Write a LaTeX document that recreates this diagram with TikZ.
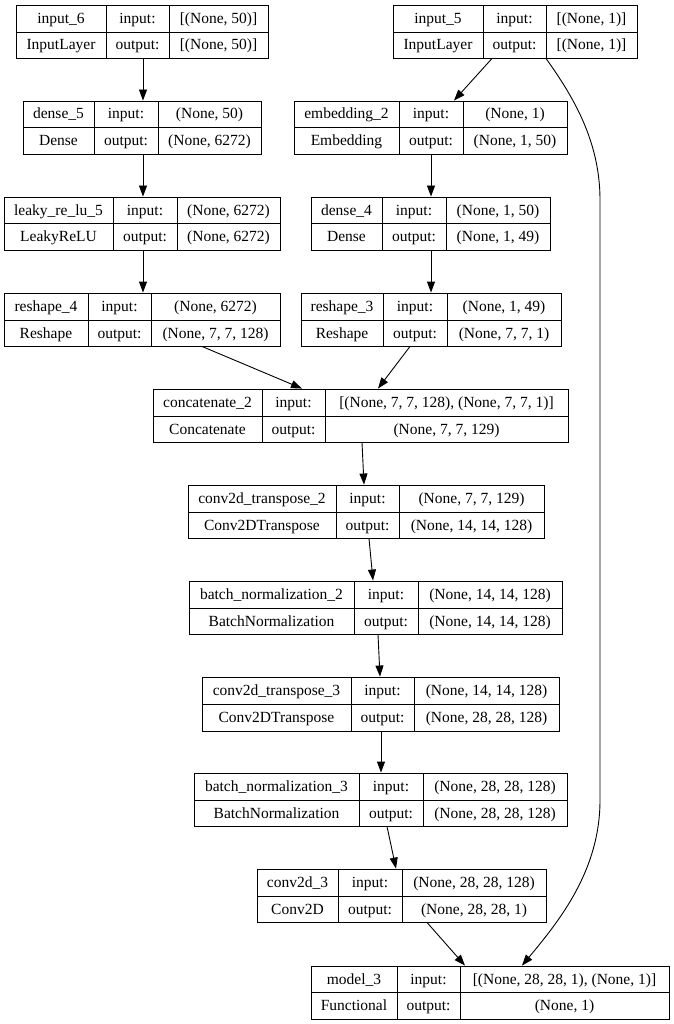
\documentclass[tikz,border=0pt]{standalone}
\usepackage{fontspec}
\setmainfont{Liberation Serif}
\usetikzlibrary{fit,arrows.meta}
\newcommand\LT[4]{\def\lTa{#1}\def\lTb{#2}\def\lTc{#3}\def\lTd{#4}}
\newcommand\LY[8]{%
 \node[box, fit={(#2,#6) (#5,#8)}] (#1) {};
 \draw[cell] (#3,#6) -- (#3,#8) (#4,#6) -- (#4,#8) (#2,#7) -- (#5,#7);
 \node[txt] (#1-n) at ({(#2+#3)/2},{(#6+#7)/2}) {\lTa};
 \node[txt] (#1-k) at ({(#2+#3)/2},{(#7+#8)/2}) {\lTb};
 \node[txt] (#1-i) at ({(#3+#4)/2},{(#6+#7)/2}) {input:};
 \node[txt] (#1-o) at ({(#3+#4)/2},{(#7+#8)/2}) {output:};
 \node[txt] (#1-a) at ({(#4+#5)/2},{(#6+#7)/2}) {\lTc};
 \node[txt] (#1-b) at ({(#4+#5)/2},{(#7+#8)/2}) {\lTd};
}
\begin{document}
\begin{tikzpicture}[x=1pt,y=-1pt,
  box/.style={draw=black, line width=0.9pt, inner sep=0pt},
  cell/.style={draw=black, line width=0.9pt},
  txt/.style={inner sep=0pt, text height=11pt, text depth=1pt, font=\fontsize{15.5}{18}\selectfont},
  arr/.style={draw=black, line width=0.9pt, -{Triangle[length=11pt,width=8pt]}}]
\fill[white] (0,0) rectangle (673,1024);
\useasboundingbox (0,0) rectangle (673,1024);

\LT{input\_6}{InputLayer}{[(None, 50)]}{[(None, 50)]}
\LY{in6}{16}{106}{169}{268}{5}{32}{58}
\LT{input\_5}{InputLayer}{[(None, 1)]}{[(None, 1)]}
\LY{in5}{393}{483}{546}{637}{5}{32}{58}
\LT{dense\_5}{Dense}{(None, 50)}{(None, 6272)}
\LY{d5}{23}{94}{158}{261}{101}{127}{154}
\LT{embedding\_2}{Embedding}{(None, 1)}{(None, 1, 50)}
\LY{emb}{294}{399}{463}{567}{101}{127}{154}
\LT{leaky\_re\_lu\_5}{LeakyReLU}{(None, 6272)}{(None, 6272)}
\LY{lr}{4}{113}{177}{280}{197}{223}{250}
\LT{dense\_4}{Dense}{(None, 1, 50)}{(None, 1, 49)}
\LY{d4}{311}{382}{446}{550}{197}{223}{250}
\LT{reshape\_4}{Reshape}{(None, 6272)}{(None, 7, 7, 128)}
\LY{r4}{4}{88}{151}{280}{293}{320}{346}
\LT{reshape\_3}{Reshape}{(None, 1, 49)}{(None, 7, 7, 1)}
\LY{r3}{301}{383}{447}{561}{293}{320}{346}
\LT{concatenate\_2}{Concatenate}{[(None, 7, 7, 128), (None, 7, 7, 1)]}{(None, 7, 7, 129)}
\LY{cc}{153}{262}{325}{568}{389}{416}{442}
\LT{conv2d\_transpose\_2}{Conv2DTranspose}{(None, 7, 7, 129)}{(None, 14, 14, 128)}
\LY{ct2}{188}{336}{399}{544}{485}{512}{538}
\LT{batch\_normalization\_2}{BatchNormalization}{(None, 14, 14, 128)}{(None, 14, 14, 128)}
\LY{bn2}{189}{354}{418}{562}{581}{608}{634}
\LT{conv2d\_transpose\_3}{Conv2DTranspose}{(None, 14, 14, 128)}{(None, 28, 28, 128)}
\LY{ct3}{202}{351}{414}{559}{677}{704}{731}
\LT{batch\_normalization\_3}{BatchNormalization}{(None, 28, 28, 128)}{(None, 28, 28, 128)}
\LY{bn3}{194}{359}{423}{567}{773}{800}{826}
\LT{conv2d\_3}{Conv2D}{(None, 28, 28, 128)}{(None, 28, 28, 1)}
\LY{c3}{257}{338}{402}{546}{869}{896}{922}
\LT{model\_3}{Functional}{[(None, 28, 28, 1), (None, 1)]}{(None, 1)}
\LY{m3}{311}{397}{460}{669}{966}{992}{1019}

\draw[arr] (143,0 |- in6.south) -- (143,0 |- d5.north);
\draw[arr] (492,0 |- in5.south) -- (454,0 |- emb.north);
\draw[arr] (143,0 |- d5.south) -- (143,0 |- lr.north);
\draw[arr] (431,0 |- emb.south) -- (431,0 |- d4.north);
\draw[arr] (143,0 |- lr.south) -- (143,0 |- r4.north);
\draw[arr] (431,0 |- d4.south) -- (431,0 |- r3.north);
\draw[arr] (202,0 |- r4.south) -- (302,0 |- cc.north);
\draw[arr] (410,0 |- r3.south) -- (378,0 |- cc.north);
\draw[arr] (362,0 |- cc.south) -- (364,0 |- ct2.north);
\draw[arr] (369,0 |- ct2.south) -- (373,0 |- bn2.north);
\draw[arr] (378,0 |- bn2.south) -- (380,0 |- ct3.north);
\draw[arr] (381,0 |- ct3.south) -- (381,0 |- bn3.north);
\draw[arr] (387,0 |- bn3.south) -- (396,0 |- c3.north);
\draw[arr] (427,0 |- c3.south) -- (465,0 |- m3.north);
\draw[arr] (546,0 |- in5.south) .. controls (572,95) and (600,140) .. (600,200)
  -- (600,800) .. controls (600,870) and (560,920) .. (522,0 |- m3.north);
\end{tikzpicture}
\end{document}
